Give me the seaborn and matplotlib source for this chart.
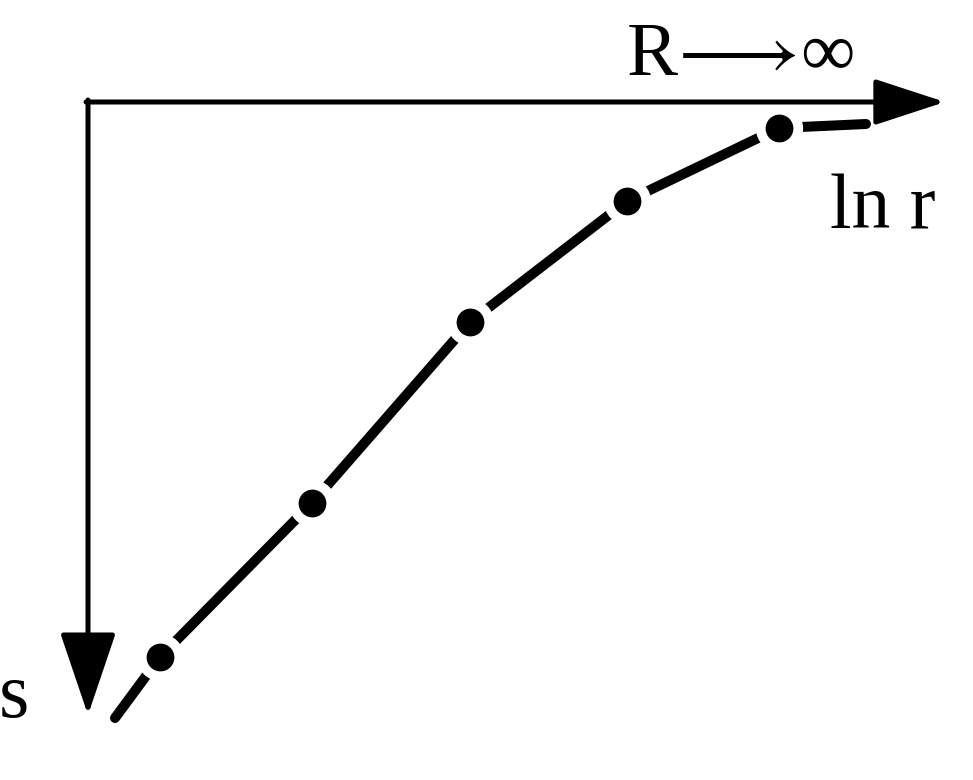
import matplotlib
matplotlib.use("Agg")
import matplotlib.pyplot as plt
import seaborn as sns
import pandas as pd

### data (origin = corner of the axes, s grows downwards)
ln_r = [0.27, 0.72, 2.24, 3.82, 5.39, 6.91, 7.78]
s_val = [6.16, 5.55, 4.01, 2.20, 0.99, 0.26, 0.22]
# the marked points on the curve
dot_ln_r = [0.72, 2.24, 3.82, 5.39, 6.91]
dot_s = [5.55, 4.01, 2.20, 0.99, 0.26]

curve = pd.DataFrame({'ln_r': ln_r, 's': s_val})
dots = pd.DataFrame({'ln_r': dot_ln_r, 's': dot_s})

sns.set_style('white')
plt.rcParams['text.color'] = 'black'
plt.rcParams['mathtext.fontset'] = 'stix'

fig = plt.figure(figsize=(9.73, 7.80), dpi=100)
ax = fig.add_axes([0, 0, 1, 1])

# curve, then white halos to cut the gaps, then the black dots
sns.lineplot(data=curve, x='ln_r', y='s', color='black', lw=7.2,
             solid_capstyle='round', sort=False, ax=ax)
sns.scatterplot(data=dots, x='ln_r', y='s', color='white', s=34**2,
                linewidth=0, ax=ax, zorder=3)
sns.scatterplot(data=dots, x='ln_r', y='s', color='black', s=20**2,
                linewidth=0, ax=ax, zorder=4)

ax.set_xlim(-0.88, 8.85)
ax.set_ylim(6.78, -1.02)
ax.axis('off')

# axes arrows
ax.annotate('', xy=(8.57, 0), xytext=(-0.02, 0),
            arrowprops=dict(arrowstyle='-|>,head_length=2.2,head_width=0.72',
                            lw=3.6, color='black', shrinkA=0, shrinkB=0,
                            mutation_scale=20))
ax.annotate('', xy=(0, 6.13), xytext=(0, -0.02),
            arrowprops=dict(arrowstyle='-|>,head_length=2.6,head_width=0.88',
                            lw=3.6, color='black', shrinkA=0, shrinkB=0,
                            mutation_scale=20))

serif = ['Liberation Serif', 'DejaVu Serif']
ax.text(6.52, -0.27, 'R$\\!\\longrightarrow\\!$\u221e', fontsize=55, family=serif,
        ha='center', va='baseline')
ax.text(7.95, 1.26, 'ln r', fontsize=56, family=serif, ha='center', va='baseline')
ax.text(-0.74, 6.15, 's', fontsize=56, family=serif, ha='center', va='baseline')

fig.savefig('out.png', dpi=100)
